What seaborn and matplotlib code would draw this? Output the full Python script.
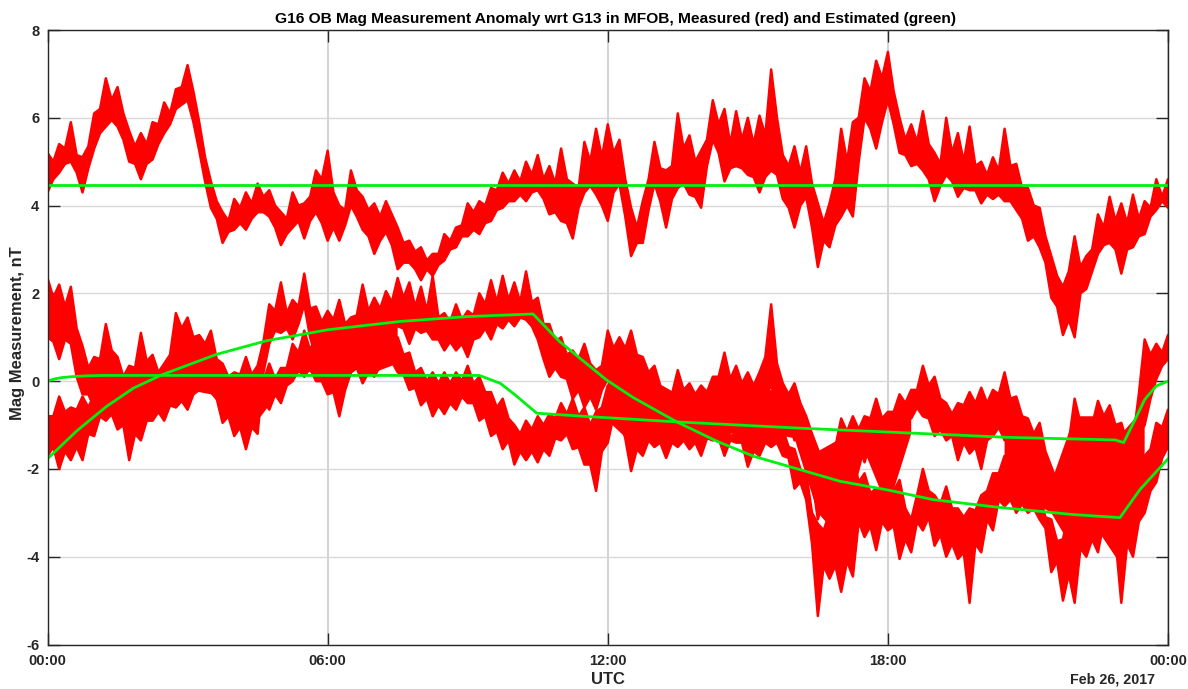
import numpy as np
import pandas as pd
import matplotlib
matplotlib.use("Agg")
import matplotlib.pyplot as plt
import seaborn as sns

sns.set_style("white")
plt.rcParams['font.family'] = ['Liberation Sans', 'DejaVu Sans']
plt.rcParams['axes.unicode_minus'] = False

TITLE = "G16 OB Mag Measurement Anomaly wrt G13 in MFOB, Measured (red) and Estimated (green)"
hour_ticks = [0, 6, 12, 18, 24]
hour_labels = ["00:00", "06:00", "12:00", "18:00", "00:00"]
nt_ticks = [-6, -4, -2, 0, 2, 4, 6, 8]

# Envelope readings every 7.5 minutes: *_hi/*_lo on the quarter hour, *_hi_m/*_lo_m between them
hours = [q / 8 for q in range(193)]

top_hi = [5.2,5.4,5.9,5.1,6.1,6.9,6.7,5.7,5.65,5.9,6.35,6.65,7.2,5.9,4.55,3.85,4.15,4.3,4.5,4.35,
          3.85,4.3,4.05,4.8,5.25,4.0,4.8,4.2,4.05,4.1,3.5,3.2,3.05,2.9,3.35,3.5,4.05,4.1,4.4,4.75,
          4.8,5.0,5.15,4.9,5.3,4.5,5.45,5.75,5.85,5.5,3.95,4.1,5.45,4.8,6.1,5.6,5.25,6.4,6.2,6.15,
          6.0,6.05,7.1,5.15,5.35,5.35,4.05,4.05,5.75,5.9,6.9,7.3,7.5,6.0,5.85,6.15,5.2,6.0,5.65,5.8,
          5.0,5.1,5.75,4.95,4.4,3.95,2.85,2.15,3.3,2.85,3.8,4.2,4.05,4.25,4.1,4.6,4.6]
top_hi_m = [5.0,5.3,5.15,5.35,6.2,6.4,6.1,5.35,5.4,5.85,
            6.1,6.7,6.6,5.1,4.1,3.65,3.95,4.05,4.2,4.0,
            3.7,4.0,4.2,4.6,4.3,3.9,4.35,3.9,3.75,3.8,
            3.15,2.95,2.75,2.9,3.2,3.55,3.85,4.0,4.35,4.5,
            4.55,4.7,4.6,4.5,4.6,4.4,5.0,5.1,5.2,4.6,
            3.5,4.6,4.85,4.9,5.3,5.0,5.5,5.85,5.4,5.5,
            5.4,5.6,6.0,4.9,4.75,4.5,3.6,4.6,5.0,6.0,
            6.6,6.9,6.6,5.5,5.45,5.4,4.95,5.2,5.0,4.9,
            4.7,4.8,4.9,4.4,4.0,3.3,2.4,2.5,2.6,3.0,
            3.5,3.65,3.6,3.7,3.95,4.2]
top_lo = [4.3,4.75,5.0,4.3,5.3,5.8,5.8,5.0,4.6,5.05,5.65,6.2,6.4,5.25,3.95,3.15,3.45,3.45,3.85,3.75,
          3.1,3.5,3.25,3.85,3.2,3.2,4.0,3.45,2.9,3.4,2.55,2.7,2.3,2.4,2.75,3.05,3.3,3.35,3.65,3.95,
          4.1,4.1,4.35,3.8,3.65,3.25,4.3,4.25,3.65,4.5,2.85,3.15,4.5,3.5,4.4,4.25,3.95,5.5,4.55,4.9,
          4.7,4.3,4.8,4.15,3.5,4.2,2.6,3.05,3.75,3.75,6.0,5.3,6.4,5.2,4.9,4.8,4.1,4.7,4.2,4.35,
          4.05,4.15,4.1,3.9,3.2,3.05,1.9,1.05,1.0,2.1,2.9,3.15,2.45,3.05,3.35,3.9,3.95]
top_lo_m = [4.6,4.95,4.75,4.85,5.65,5.95,5.5,4.95,4.95,5.4,
            5.85,6.3,5.9,4.55,3.7,3.4,3.6,3.7,3.85,3.5,
            3.35,3.65,3.65,3.6,3.5,3.55,3.75,3.3,3.2,3.1,
            2.7,2.55,2.55,2.65,3.0,3.3,3.45,3.6,3.9,4.1,
            4.25,4.3,4.15,3.85,3.6,3.95,4.45,4.0,4.3,3.75,
            3.15,3.9,4.1,4.15,4.5,4.2,4.9,5.2,4.85,4.85,
            4.65,4.65,4.7,3.95,4.0,3.5,3.2,3.55,4.0,5.0,
            5.75,5.9,5.85,5.15,4.95,4.6,4.45,4.55,4.4,4.35,
            4.25,4.25,4.1,3.7,3.3,2.7,1.7,1.4,2.0,2.5,
            3.1,3.0,3.0,3.3,3.75,4.1]

upper_hi = [2.35,2.2,2.15,0.8,0.55,1.3,0.55,0.35,1.1,0.6,0.4,1.55,1.45,1.05,1.15,0.4,0.2,0.55,0.35,1.75,
            2.25,1.85,2.45,1.7,1.6,1.85,1.45,2.2,1.9,2.05,2.35,2.25,2.15,2.4,1.55,1.75,1.6,2.0,2.3,2.4,
            2.25,2.5,1.9,1.3,1.0,0.7,0.85,0.25,1.15,1.0,1.15,0.55,0.35,-0.35,0.25,-0.05,-0.1,0.1,0.65,0.35,
            0.2,0.2,1.75,-0.05,-0.05,-0.8,-1.55,-2.0,-0.85,-0.8,-0.8,-0.4,-0.7,-0.3,-0.2,0.35,0.1,-0.5,-0.5,-0.25,
            -0.15,-0.2,0.2,-0.35,-0.85,-0.95,-1.95,-2.0,-0.4,-1.1,-0.45,-0.55,-0.95,-1.35,0.95,0.85,1.05]
upper_hi_m = [1.9,1.7,1.2,0.3,0.5,0.7,0.1,0.3,0.45,0.2,
              0.6,1.2,1.0,0.85,0.5,0.1,0.15,0.15,0.9,1.6,
              1.55,1.7,1.65,1.35,1.4,1.3,1.5,1.6,1.65,1.8,
              1.9,1.7,1.6,1.45,1.35,1.4,1.5,1.75,1.8,1.85,
              1.8,1.8,1.3,0.9,0.6,0.5,0.4,0.35,0.75,0.75,
              0.6,0.2,-0.1,-0.3,-0.2,-0.3,-0.25,0.1,0.05,-0.05,
              -0.1,0.55,0.4,-0.3,-0.5,-1.2,-1.9,-1.5,-1.15,-1.1,
              -0.85,-0.85,-0.7,-0.5,-0.2,-0.1,-0.4,-0.75,-0.55,-0.5,
              -0.5,-0.3,-0.4,-0.8,-1.2,-1.6,-2.3,-1.4,-0.95,-1.0,
              -0.8,-1.0,-1.4,-0.3,0.6,0.65]
upper_lo = [1.0,0.5,0.85,-0.3,-0.6,-0.3,-0.5,-0.7,-0.3,-0.4,-0.6,-0.4,-0.3,-0.1,-0.2,-0.95,-1.25,-1.55,-1.2,0.85,
            1.1,0.95,1.75,0.55,0.55,0.95,0.5,1.1,0.85,1.0,1.25,0.85,1.1,0.95,0.7,0.7,0.55,1.0,0.95,1.2,
            1.25,1.4,0.95,0.1,0.1,-0.4,-0.6,-0.65,0.05,-0.05,0.05,-0.6,-0.5,-1.0,-0.9,-0.95,-1.0,-0.9,-0.8,-0.8,
            -0.75,-0.8,-0.1,-1.0,-1.35,-1.65,-3.15,-2.85,-2.25,-1.65,-1.85,-1.55,-1.7,-1.35,-0.85,-0.8,-1.25,-1.35,-1.8,-1.65,
            -2.0,-1.25,-1.35,-1.7,-2.0,-2.6,-2.7,-3.0,-2.1,-2.3,-1.8,-1.35,-2.1,-2.1,-1.0,0.05,0.5]
upper_lo_m = [0.9,0.95,0.1,-0.3,-0.2,-0.2,-0.35,-0.4,-0.15,-0.3,
              -0.1,0.0,0.1,0.05,-0.4,-0.8,-1.05,-1.05,0.2,1.15,
              1.2,1.3,1.0,0.8,0.95,0.85,0.9,1.15,1.1,1.35,
              1.2,1.2,1.15,0.95,0.9,0.85,0.95,1.2,1.3,1.4,
              1.45,1.25,0.5,0.3,0.05,-0.2,-0.35,-0.2,0.25,0.25,
              0.0,-0.3,-0.6,-0.7,-0.7,-0.75,-0.7,-0.55,-0.55,-0.5,
              -0.55,-0.35,-0.5,-0.9,-1.25,-2.2,-2.6,-2.2,-1.6,-1.45,
              -1.4,-1.35,-1.2,-0.8,-0.6,-0.85,-1.1,-1.25,-1.4,-1.5,
              -1.35,-1.05,-1.2,-1.55,-1.9,-2.3,-2.55,-2.6,-1.9,-1.7,
              -1.25,-1.7,-1.8,-1.2,-0.4,0.35]

lower_hi = [-0.8,-0.35,-0.6,-0.35,-0.3,0.4,0.2,-0.3,-0.5,-0.2,-0.1,0.1,0.35,0.8,0.9,0.3,0.1,0.3,0.2,0.4,
            0.3,0.85,1.15,1.0,0.65,0.25,1.1,0.85,0.7,1.0,1.0,0.65,0.3,0.2,0.2,0.2,0.35,0.1,-0.25,-0.4,
            -1.0,-0.9,-0.8,-0.75,-0.5,-0.4,-0.6,-0.7,-0.1,-0.1,-0.9,-0.8,-0.65,-0.8,-0.95,-1.0,-0.95,-1.0,-1.0,-1.2,
            -0.95,-1.1,-1.0,-1.1,-1.55,-2.1,-3.25,-3.0,-3.4,-1.7,-2.1,-2.45,-2.0,-2.25,-3.15,-2.0,-2.6,-2.4,-2.9,-2.9,
            -2.6,-2.1,-1.7,-1.95,-2.1,-2.6,-3.15,-3.6,-2.25,-2.75,-2.6,-1.95,-2.45,-2.7,-1.7,-0.95,-0.65]
lower_hi_m = [-0.8,-0.7,-0.65,-0.6,-0.2,0.0,-0.25,-0.7,-0.6,-0.4,
              -0.25,-0.1,0.25,0.5,0.4,-0.1,-0.1,-0.05,0.0,0.05,
              0.3,0.65,0.7,0.45,0.2,0.3,0.6,0.45,0.5,0.7,
              0.6,0.2,0.0,-0.05,-0.05,0.0,-0.05,-0.25,-0.6,-0.85,
              -1.2,-1.1,-1.0,-0.85,-0.75,-0.8,-1.0,-0.6,-0.45,-0.7,
              -1.1,-1.0,-1.0,-1.15,-1.2,-1.2,-1.2,-1.15,-1.25,-1.2,
              -1.2,-1.2,-1.25,-1.5,-2.0,-3.0,-3.4,-3.5,-2.8,-2.3,
              -2.55,-2.5,-2.5,-2.9,-2.6,-2.5,-2.8,-2.9,-3.1,-2.95,
              -2.5,-2.1,-2.1,-2.3,-2.6,-3.1,-3.65,-3.0,-2.9,-3.0,
              -2.4,-2.5,-2.85,-2.4,-1.55,-1.05]
lower_lo = [-1.7,-2.0,-1.8,-1.8,-1.25,-0.9,-1.1,-1.8,-1.35,-0.9,-0.9,-0.6,-0.65,-0.2,0.0,-0.5,-0.9,-0.9,-0.8,-0.65,
            -0.5,0.0,0.1,0.0,-0.3,-0.8,0.2,-0.05,0.1,0.4,0.2,-0.2,-0.55,-0.8,-0.75,-0.65,-0.5,-0.9,-1.25,-1.55,
            -1.9,-1.8,-1.85,-1.7,-1.35,-1.55,-1.9,-2.5,-1.4,-0.8,-2.05,-1.7,-1.5,-1.75,-1.5,-1.55,-1.7,-1.35,-1.7,-1.4,
            -1.95,-1.7,-1.5,-1.7,-2.45,-2.7,-5.35,-4.5,-4.8,-4.45,-3.55,-3.85,-3.4,-4.05,-3.9,-3.4,-3.75,-4.0,-4.05,-5.05,
            -3.9,-3.4,-2.85,-3.0,-3.0,-3.15,-4.35,-5.0,-5.05,-4.0,-3.9,-3.3,-5.05,-4.0,-3.0,-2.3,-1.5]
lower_lo_m = [-1.5,-1.6,-1.5,-1.2,-0.8,-0.75,-1.0,-1.2,-0.9,-0.7,
              -0.55,-0.45,-0.3,0.1,-0.1,-0.45,-0.65,-0.6,-0.4,-0.3,
              -0.1,0.25,0.3,0.0,-0.25,-0.2,0.3,0.2,0.35,0.45,
              0.15,-0.15,-0.4,-0.55,-0.5,-0.35,-0.5,-0.8,-1.15,-1.35,
              -1.6,-1.6,-1.55,-1.3,-1.2,-1.5,-1.9,-1.6,-0.8,-1.3,
              -1.55,-1.35,-1.4,-1.4,-1.35,-1.4,-1.3,-1.3,-1.35,-1.4,
              -1.6,-1.4,-1.4,-1.75,-2.3,-3.7,-4.2,-4.2,-4.1,-3.2,
              -3.3,-3.2,-3.3,-3.6,-3.2,-3.1,-3.5,-3.7,-3.9,-3.7,
              -3.15,-2.7,-2.7,-2.8,-2.9,-3.35,-4.1,-4.4,-3.8,-3.6,
              -3.2,-3.6,-3.7,-3.2,-2.5,-1.75]

# Where the two lower traces overlap into solid red (half-hour readings)
core_hours = [q / 2 for q in range(49)]
nan = float("nan")
core_hi = [nan,nan,0.1,0.0,0.2,0.1,0.9,0.7,-0.2,-0.1,0.0,0.7,1.1,1.1,1.4,1.6,
           nan,nan,nan,nan,nan,nan,nan,nan,
           0.5,0.3,0.0,-0.3,-0.3,-0.2,-0.3,-0.2,-0.6,-1.6,-1.3,-1.3,-1.0,-0.6,nan,nan,
           nan,-0.3,-1.1,-2.3,-0.8,-0.8,-1.2,-0.6,nan]
core_lo = [nan,nan,-0.9,-0.7,-0.8,-0.5,-0.2,-0.3,-0.9,-0.9,-0.2,0.3,-0.1,0.3,0.2,0.4,
           nan,nan,nan,nan,nan,nan,nan,nan,
           -0.9,-1.4,-1.2,-1.2,-1.3,-1.2,-1.2,-1.2,-1.3,-3.0,-3.6,-1.6,-2.9,-1.2,nan,nan,
           nan,-2.7,-2.7,-3.0,-3.9,-3.4,-4.2,-2.6,nan]

# Estimated curves, read at their bends
flat_hours = [0, 24]
flat_vals = [4.48, 4.48]
est_a_hours = [0,0.15,0.3,0.5,0.8,1.2,9.25,9.7,10.0,10.48,11.47,13.5,16.1,18.0,20.55,22.87,23.05,23.33,23.5,23.75,24]
est_a_vals = [0,0.05,0.08,0.1,0.12,0.13,0.13,-0.05,-0.3,-0.73,-0.8,-0.93,-1.07,-1.16,-1.28,-1.34,-1.4,-0.8,-0.42,-0.11,0]
est_b_hours = [0,0.62,1.26,1.84,2.44,3.62,4.69,6.0,7.55,8.98,10.4,10.97,11.97,12.54,13.48,14.34,15.12,16.13,16.97,18.0,18.97,20.33,21.97,22.97,23.4,24]
est_b_vals = [-1.77,-1.14,-0.58,-0.16,0.14,0.61,0.92,1.17,1.36,1.47,1.53,0.9,0.03,-0.37,-0.93,-1.37,-1.71,-2.02,-2.28,-2.48,-2.7,-2.87,-3.04,-3.11,-2.47,-1.77]

RED = "#ff0000"
GREEN = "#00f010"


def weave(on_quarter, between):
    out = []
    for a, b in zip(on_quarter, between):
        out += [a, b]
    out.append(on_quarter[-1])
    return out


fig = plt.figure(figsize=(11.88, 6.89), dpi=100)
ax = fig.add_axes([47.5 / 1188, (689 - 644.5) / 689, (1168 - 47.5) / 1188, (644.5 - 30) / 689])

bands = [(top_hi, top_hi_m, top_lo, top_lo_m),
         (upper_hi, upper_hi_m, upper_lo, upper_lo_m),
         (lower_hi, lower_hi_m, lower_lo, lower_lo_m)]
for hi, him, lo, lom in bands:
    h = weave(hi, him)
    l = weave(lo, lom)
    ax.fill_between(hours, l, h, color=RED, lw=0, zorder=3)
    band = pd.DataFrame({"h": hours, "hi": h, "lo": l})
    sns.lineplot(data=band, x="h", y="hi", color=RED, lw=1.8, ax=ax, zorder=3, estimator=None)
    sns.lineplot(data=band, x="h", y="lo", color=RED, lw=1.8, ax=ax, zorder=3, estimator=None)
ax.fill_between(core_hours, core_lo, core_hi, color=RED, lw=0, zorder=3)

for hx, vy in [(flat_hours, flat_vals), (est_a_hours, est_a_vals), (est_b_hours, est_b_vals)]:
    sns.lineplot(x=hx, y=vy, color=GREEN, lw=2, ax=ax, zorder=4, estimator=None)

ax.set_xlim(0, 24)
ax.set_ylim(-6, 8)
ax.set_xticks(hour_ticks)
ax.set_xticklabels(hour_labels)
ax.set_yticks(nt_ticks)
ax.grid(True, axis="y", color="#d9d9d9", lw=1.0, zorder=1)
ax.grid(True, axis="x", color="#d4d4d4", lw=1.5, zorder=1)
ax.set_axisbelow(True)
ax.tick_params(axis="both", which="major", direction="in", length=8.6, width=1, color="#262626",
               top=True, right=True, bottom=True, left=True, labelsize=10.5, labelcolor="#262626")
for lab in ax.get_xticklabels() + ax.get_yticklabels():
    lab.set_fontweight("bold")
for s in ax.spines.values():
    s.set_color("#262626")
    s.set_linewidth(1)
    s.set_zorder(6)
ax.tick_params(axis="x", pad=7)
ax.tick_params(axis="y", pad=6)
ax.set_xlabel("")
ax.set_ylabel("")
fig.text(18 / 1188, 1 - 333 / 689, "Mag Measurement, nT", rotation=90, ha="center", va="center",
         fontsize=11.9, fontweight="bold", color="#262626")
fig.text(615.5 / 1188, 1 - 19 / 689, TITLE, ha="center", va="center", fontsize=11.15, fontweight="bold", color="black")
fig.text(607.5 / 1188, 1 - 679 / 689, "UTC", ha="center", va="center", fontsize=12, fontweight="bold", color="#262626")
fig.text(1155 / 1188, 1 - 679 / 689, "Feb 26, 2017", ha="right", va="center", fontsize=10.3, fontweight="bold", color="#262626")
fig.savefig("out.png", dpi=100)
